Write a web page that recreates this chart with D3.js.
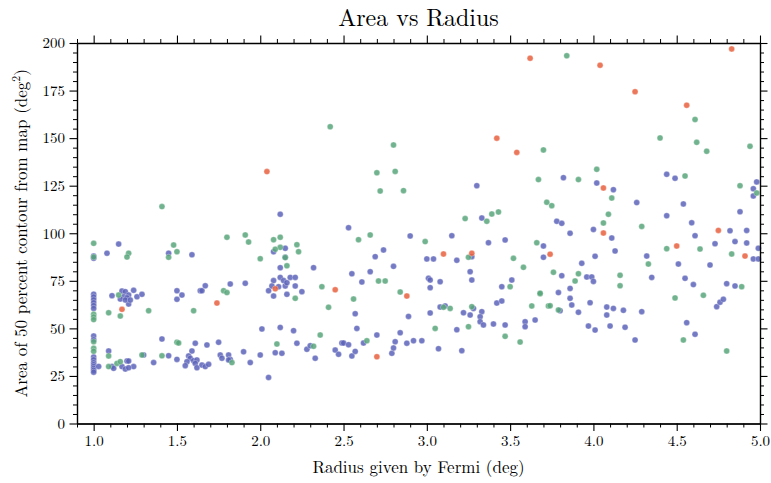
<!DOCTYPE html>
<html>
<head>
<meta charset="utf-8">
<script src="https://cdn.jsdelivr.net/npm/d3@7"></script>
<style>
  body { margin: 0; background: #fff; }
  text { font-family: "Latin Modern Roman", "CMU Serif", "DejaVu Serif", serif; fill: #000; }
  .axis path, .axis line { stroke: #000; }
</style>
</head>
<body>
<div id="chart"></div>
<script>
// radius (deg), area (deg^2) pairs, one list per colour
var bluePoints = [
  [1.0, 88.0], [1.0, 86.8], [1.0, 68], [1.0, 66.5], [1.0, 65], [1.0, 63.5], [1.0, 62], [1.0, 60.5],
  [1.0, 46], [1.0, 44], [1.0, 35], [1.0, 33.5], [1.0, 32], [1.0, 31], [1.0, 30], [1.0, 29], [1.0, 28], [1.0, 27],
  [1.15, 94.3], [1.08, 89.5], [1.11, 67.2], [1.17, 69.6], [1.19, 69.3], [1.24, 70], [1.21, 67.5], [1.18, 66.6],
  [1.20, 66.1], [1.16, 65.4], [1.26, 66.6], [1.29, 67.9], [1.21, 62.8], [1.19, 64.9], [1.22, 64.9],
  [1.09, 38.1], [1.11, 29.9], [1.12, 29], [1.17, 29.9], [1.19, 28.6], [1.20, 32.8], [1.21, 32.8], [1.24, 29.9],
  [1.21, 29.3], [1.03, 30], [1.30, 36], [1.36, 32],
  [1.45, 89.5], [1.59, 88.7], [1.50, 69.8], [1.53, 67.5], [1.50, 65.3], [1.64, 69.8], [1.65, 69.8], [1.67, 72.4],
  [1.82, 73.3], [1.91, 73.7], [1.41, 44.4], [1.45, 35.6], [1.50, 33.7], [1.61, 42.2], [1.68, 41.3], [1.75, 42.7],
  [1.59, 38.1], [1.57, 35.5], [1.58, 34.3], [1.56, 32.5], [1.55, 30.4], [1.60, 33], [1.62, 33.4], [1.61, 31.6],
  [1.62, 29.3], [1.65, 30.7], [1.67, 29.9], [1.69, 31.1], [1.76, 36], [1.77, 34.3], [1.81, 36], [1.82, 33.7],
  [1.81, 33.4], [1.90, 37.7], [1.94, 32], [2.0, 36], [2.01, 49.7], [2.05, 24.2], [2.09, 37.2], [2.13, 36.9],
  [2.12, 50.5], [2.20, 48.8], [2.22, 42.2], [2.28, 39], [2.30, 40.9], [2.33, 34.3],
  [2.12, 110], [2.08, 90.3], [2.15, 92.1], [2.12, 81.9], [2.15, 87.4], [2.32, 81.9],
  [2.05, 69.8], [2.08, 75.1], [2.08, 67], [2.07, 72.3], [2.11, 71.9], [2.12, 76.8], [2.14, 75.1], [2.15, 72.3],
  [2.16, 74], [2.18, 76.8], [2.21, 76.8], [2.21, 72.3], [2.25, 69.3], [2.16, 67.9],
  [2.53, 102.9], [2.90, 98.6], [2.69, 87.7], [2.74, 91.2], [2.80, 82.6], [2.66, 79.8], [2.61, 74.4], [2.55, 78.7],
  [2.57, 57.7], [2.58, 50], [2.45, 38.6], [2.47, 36.4], [2.49, 42.3], [2.50, 42.3], [2.53, 41.4], [2.55, 35.5],
  [2.57, 37.9], [2.62, 42.3], [2.70, 46.5], [2.79, 36.9], [2.80, 39.7], [2.81, 43], [2.84, 47.7], [2.89, 56.3],
  [2.88, 42.2], [2.92, 43.5], [2.97, 43.5],
  [3.15, 98.7], [3.37, 95], [3.47, 96.5], [3.70, 93.3], [3.70, 87.4], [3.27, 87.7], [3.18, 85.8], [3.0, 86.5],
  [3.04, 86.5], [3.30, 125], [3.33, 108], [3.01, 76.3], [3.02, 75.4], [3.08, 74.5], [3.02, 71.4], [3.02, 58.1],
  [3.07, 39.3], [3.08, 61.2], [3.11, 61.8], [3.22, 58.2], [3.26, 57], [3.18, 49.3], [3.21, 38.3], [3.26, 79.8],
  [3.27, 75.4], [3.28, 60.5], [3.33, 58.8], [3.32, 56.1], [3.32, 53.5], [3.34, 51.8], [3.40, 52.3], [3.42, 63.3],
  [3.45, 64.4], [3.45, 71.9], [3.51, 75.4], [3.47, 51.8], [3.59, 53.5], [3.59, 50.9], [3.65, 54.4],
  [3.82, 129.2], [4.02, 126.4], [4.12, 122.9], [4.44, 131], [4.49, 128.9], [4.98, 127], [4.96, 123.4], [4.96, 119.6],
  [4.26, 116.1], [4.54, 115.4], [4.88, 111.3], [4.44, 109.2], [3.78, 106.3], [3.81, 105.2], [4.59, 105.5], [4.0, 102],
  [4.82, 101.3], [4.92, 101.5], [3.86, 100], [4.11, 97.5], [4.13, 90.7], [4.61, 98.7], [4.73, 94.5], [4.85, 95.6],
  [4.92, 94.9], [4.99, 92.1], [4.96, 86.5], [4.99, 86.5], [4.32, 88], [4.01, 87.9], [3.93, 84.2], [3.81, 77.7],
  [3.96, 77], [3.99, 77], [4.0, 74.7], [4.51, 83.8], [4.70, 83.3], [4.35, 76.8], [4.55, 76.3], [4.60, 73],
  [4.80, 73.5], [4.85, 72.3], [3.79, 68.8], [3.86, 71], [3.86, 65.8], [3.87, 62.3], [3.80, 59.3], [3.91, 58.5],
  [3.98, 63.5], [3.97, 51.2], [4.01, 49.1], [4.08, 61.2], [4.12, 60.5], [4.08, 57], [4.18, 59.5], [4.10, 51.2],
  [4.19, 50.6], [4.29, 58.8], [4.25, 43.9], [4.56, 53], [4.61, 46.9], [4.74, 61.4], [4.76, 63.7], [4.78, 65.3]
];

var greenPoints = [
  [1.0, 94.7], [1.21, 89.5], [1.20, 87.5], [1.0, 87.5], [1.48, 93.8], [1.50, 90.3], [1.45, 87.4], [1.80, 97.9],
  [1.91, 99.1], [1.93, 95.4], [2.0, 86.6], [2.08, 96.6], [2.12, 97.9], [2.12, 92.6], [2.09, 91.6], [2.22, 94],
  [2.23, 90.3], [2.16, 82.9], [2.15, 87.2],
  [1.0, 57.4], [1.0, 56], [1.0, 54.6], [1.09, 58.2], [1.16, 56.5], [1.15, 67.5], [1.33, 59.3], [1.60, 59.3],
  [1.78, 69.8], [1.80, 68.8], [2.21, 65.8], [2.37, 71.9], [2.41, 61.1],
  [1.0, 43], [1.0, 39.5], [1.0, 38], [1.09, 35.5], [1.09, 29.9], [1.14, 31.6], [1.16, 32.5], [1.29, 36],
  [1.41, 35.6], [1.50, 42.7], [1.51, 42.3], [1.83, 32], [2.10, 41.8], [2.32, 40.6], [2.36, 46.5],
  [1.41, 114], [2.42, 156], [2.80, 146.4], [2.70, 131.8], [2.81, 132.5], [2.72, 122.2], [2.86, 122.4],
  [3.67, 128.2], [3.72, 116.3], [3.75, 114.5], [3.70, 143.8], [3.23, 107.7], [3.36, 106.3], [3.39, 110.1],
  [3.43, 111.2], [2.59, 96.6], [2.66, 99.1], [2.99, 95.6], [3.66, 95], [3.25, 87.4], [2.56, 65.4], [2.64, 43.5],
  [2.71, 74.9], [2.75, 74.9], [2.84, 69.1], [3.05, 50], [3.10, 61.1], [3.14, 60.5], [3.25, 50.9], [3.27, 61.4],
  [3.50, 71.9], [3.52, 86.8], [3.58, 82.1], [3.47, 45.8], [3.56, 42.8], [3.63, 61.8], [3.68, 68.2], [3.73, 61.8],
  [3.84, 193.3], [4.62, 147.8], [4.61, 159.8], [4.40, 150.1], [4.68, 143.1], [4.94, 145.7], [4.02, 133.6],
  [3.91, 128.2], [4.11, 118.5], [4.55, 130.1], [4.88, 125], [4.98, 121.2], [4.09, 110], [4.06, 105.4],
  [4.29, 103.6], [4.44, 91.9], [4.64, 91.7], [4.83, 89.1], [3.76, 79.5], [3.91, 78.7], [3.89, 74.9], [4.33, 83.8],
  [4.16, 77.9], [4.16, 72.4], [4.89, 71.9], [3.68, 68.4], [3.74, 61.9], [3.79, 59.7], [4.49, 66], [4.66, 67.4],
  [4.54, 43.9], [4.80, 38.1]
];

var redPoints = [
  [1.17, 60], [1.74, 63.3], [2.04, 132.4], [2.09, 70.8], [2.45, 70.3], [2.70, 35.1], [2.88, 67], [3.10, 89.1],
  [3.27, 89.5], [3.42, 150], [3.54, 142.5], [3.62, 192], [3.74, 89], [4.04, 188.3], [4.25, 174.4], [4.56, 167.3],
  [4.06, 123.8], [4.06, 100.1], [4.50, 93.3], [4.75, 101.5], [4.91, 88], [4.83, 196.9]
];

var seriesColors = ["#5c63b8", "#58a67a", "#e9603f"];

var xMajorTicks = [1.0, 1.5, 2.0, 2.5, 3.0, 3.5, 4.0, 4.5, 5.0];
var xTickLabels = ["1.0", "1.5", "2.0", "2.5", "3.0", "3.5", "4.0", "4.5", "5.0"];
var yMajorTicks = [0, 25, 50, 75, 100, 125, 150, 175, 200];
var yTickLabels = ["0", "25", "50", "75", "100", "125", "150", "175", "200"];

var titleText = "Area vs Radius";
var xLabelText = "Radius given by Fermi (deg)";
var yLabelText = "Area of 50 percent contour from map (deg";

/**
 * Constructor for the area vs radius scatter chart
 */
function AreaRadiusChart(){
    var self = this;
    self.init();
};

/**
 * Sets up the svg, scales and the margins
 */
AreaRadiusChart.prototype.init = function(){
    var self = this;
    self.margin = {top: 43, right: 11, bottom: 59.5, left: 77};
    self.svgWidth = 771;
    self.svgHeight = 483;
    self.width = self.svgWidth - self.margin.left - self.margin.right;
    self.height = self.svgHeight - self.margin.top - self.margin.bottom;

    self.svg = d3.select("#chart").append("svg")
        .attr("width", self.svgWidth)
        .attr("height", self.svgHeight);

    self.g = self.svg.append("g")
        .attr("transform", "translate(" + self.margin.left + "," + self.margin.top + ")");

    self.x = d3.scaleLinear().domain([0.9, 5.0]).range([0, self.width]);
    self.y = d3.scaleLinear().domain([0, 200]).range([self.height, 0]);
};

/**
 * Draws the four spines with major and minor ticks (all pointing outward)
 */
AreaRadiusChart.prototype.drawAxes = function(){
    var self = this;

    var xMinor = d3.range(9, 51).map(function(d){ return d / 10; })
        .filter(function(d){ return xMajorTicks.indexOf(d) < 0; });
    var yMinor = d3.range(0, 201, 5)
        .filter(function(d){ return yMajorTicks.indexOf(d) < 0; });

    function addAxis(axisFn, scale, pos, major, minor, labels){
        var g = self.g.append("g").attr("class", "axis").attr("transform", pos);
        g.call(axisFn(scale).tickValues(minor).tickSize(4).tickSizeOuter(0).tickFormat(""));
        var gm = self.g.append("g").attr("class", "axis").attr("transform", pos);
        gm.call(axisFn(scale).tickValues(major).tickSize(7.5).tickSizeOuter(0)
            .tickFormat(function(d, i){ return labels ? labels[i] : ""; }));
        g.selectAll("line").attr("stroke-width", 1);
        gm.selectAll("line").attr("stroke-width", 1.1);
        gm.select(".domain").attr("stroke-width", 1.4);
        gm.selectAll("text").attr("font-size", 15).style("font-family", null);
        return gm;
    }

    var bottom = addAxis(d3.axisBottom, self.x, "translate(0," + self.height + ")", xMajorTicks, xMinor, xTickLabels);
    bottom.selectAll("text").attr("dy", "0.85em").attr("y", 10);
    addAxis(d3.axisTop, self.x, "translate(0,0)", xMajorTicks, xMinor, null);
    var left = addAxis(d3.axisLeft, self.y, "translate(0,0)", yMajorTicks, yMinor, yTickLabels);
    left.selectAll("text").attr("x", -12);
    addAxis(d3.axisRight, self.y, "translate(" + self.width + ",0)", yMajorTicks, yMinor, null);
};

/**
 * Plots the three groups of points and the text labels
 */
AreaRadiusChart.prototype.update = function(){
    var self = this;

    //groups drawn in order so the red ones end up on top
    [bluePoints, greenPoints, redPoints].forEach(function(points, i){
        self.g.append("g").selectAll("circle")
            .data(points)
            .enter().append("circle")
            .attr("cx", function(d){ return self.x(d[0]); })
            .attr("cy", function(d){ return self.y(d[1]); })
            .attr("r", 3)
            .attr("fill", seriesColors[i])
            .attr("fill-opacity", 0.85)
            .attr("stroke", "#fff")
            .attr("stroke-opacity", 0.6)
            .attr("stroke-width", 0.5);
    });

    self.drawAxes();

    self.svg.append("text")
        .attr("x", self.margin.left + self.width / 2)
        .attr("y", 26)
        .attr("text-anchor", "middle")
        .attr("font-size", 24)
        .text(titleText);

    self.svg.append("text")
        .attr("x", self.margin.left + self.width / 2)
        .attr("y", 473)
        .attr("text-anchor", "middle")
        .attr("font-size", 17)
        .text(xLabelText);

    var yl = self.svg.append("text")
        .attr("transform", "translate(27," + (self.margin.top + self.height / 2) + ") rotate(-90)")
        .attr("text-anchor", "middle")
        .attr("font-size", 17);
    yl.append("tspan").text(yLabelText);
    yl.append("tspan").attr("font-size", 12).attr("dy", -7).text("2");
    yl.append("tspan").attr("dy", 7).text(")");
};

var chart = new AreaRadiusChart();
chart.update();
</script>
</body>
</html>
